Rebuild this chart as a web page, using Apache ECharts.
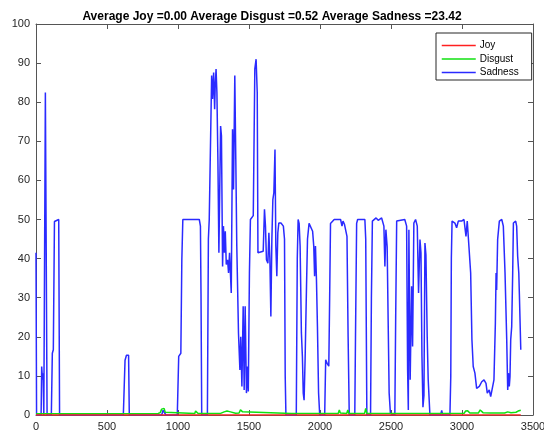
<!DOCTYPE html>
<html>
<head>
<meta charset="utf-8">
<script src="https://cdn.jsdelivr.net/npm/echarts@6/dist/echarts.min.js"></script>
<style>
  html, body { margin: 0; padding: 0; background: #fff; }
  #chart { width: 544px; height: 434px; }
</style>
</head>
<body>
<div id="chart"></div>
<script>
// Emotion scores per frame: [frame, score]
const joy = [[0, 0], [3414, 0]];

const disgust = [
  [0, 0.3], [300, 0.35], [600, 0.35], [860, 0.4], [875, 0.6], [885, 1.5], [893, 2.0], [902, 1.7], [910, 0.7], [918, 0.4],
  [1118, 0.4], [1124, 1.0], [1130, 1.4], [1136, 0.7], [1142, 0.4],
  [1300, 0.4], [1325, 0.8], [1345, 1.0], [1370, 0.8], [1405, 0.45],
  [1430, 0.5], [1440, 1.3], [1448, 1.6], [1455, 0.8], [1462, 0.4],
  [1800, 0.4], [2128, 0.4], [2136, 1.3], [2143, 0.5], [2150, 0.4],
  [2188, 0.4], [2196, 1.3], [2203, 0.4],
  [2314, 0.4], [2322, 1.7], [2330, 0.4],
  [2700, 0.4], [3015, 0.45], [3025, 1.0], [3040, 1.1], [3055, 0.5],
  [3115, 0.5], [3128, 1.3], [3138, 1.5], [3148, 0.6], [3200, 0.5],
  [3300, 0.5], [3322, 0.8], [3333, 0.9], [3345, 0.6], [3380, 0.7], [3395, 1.0], [3404, 0.9], [3414, 1.2]
];

const sadness = [
  [0, 41.5], [4, 0], [36, 0], [40, 12.4], [46, 9], [50, 10.7], [55, 0], [60, 0], [66, 82.5], [78, 0],
  [108, 0], [115, 15.8], [122, 16.7], [130, 49.5], [140, 50], [160, 50], [166, 0],
  [615, 0], [627, 14], [637, 15.3], [652, 15.3], [657, 0],
  [885, 0], [895, 1.2], [905, 0.8], [915, 0],
  [995, 0], [1005, 15], [1020, 15.8], [1027, 39.7], [1034, 50], [1150, 50], [1158, 48.3], [1162, 31], [1167, 0],
  [1207, 0], [1214, 45], [1220, 50], [1230, 50],
  [1237, 86.8], [1243, 80.8], [1251, 87.6], [1258, 78.2], [1262, 84], [1268, 88.5], [1274, 82.5], [1281, 65.4],
  [1288, 41.5], [1294, 58], [1300, 73.9], [1306, 71.4], [1314, 38], [1320, 48.3], [1327, 41.5], [1333, 47],
  [1340, 38.5], [1349, 39.7], [1356, 36.3], [1363, 41.5], [1375, 31.2], [1384, 73.1], [1391, 57.7], [1400, 86.8],
  [1407, 65.4], [1414, 43.2], [1426, 20.9], [1436, 11.5], [1442, 20], [1450, 7.3], [1459, 27.8], [1466, 6.4],
  [1473, 27.8], [1482, 5.6], [1489, 12.4], [1495, 6], [1503, 36.3], [1510, 50], [1520, 50], [1530, 51],
  [1541, 88.5], [1550, 91], [1558, 82.5], [1563, 41.5], [1575, 41.5], [1600, 41.9], [1609, 52.6], [1616, 48.3],
  [1623, 39.7], [1633, 38.8], [1640, 46.6], [1647, 40], [1654, 25.2], [1661, 44.9], [1668, 55.1], [1675, 56.8],
  [1683, 67.9], [1689, 43.2], [1696, 35.5], [1703, 46.6], [1710, 49.1], [1725, 49.1], [1742, 48.3], [1750, 45],
  [1755, 10], [1760, 0],
  [1833, 0], [1840, 40], [1846, 50], [1853, 49], [1860, 43.2], [1869, 21], [1876, 15], [1882, 5.6], [1888, 3.8],
  [1895, 14.1], [1905, 32.9], [1912, 45], [1923, 49], [1935, 48.5], [1948, 47], [1956, 43.2], [1962, 35.5],
  [1968, 43.2], [1975, 34.7], [1982, 22.6], [1990, 5.6], [1998, 0],
  [2033, 0], [2040, 14.1], [2050, 13.2], [2062, 12.5], [2068, 30], [2074, 49], [2100, 50], [2145, 50],
  [2155, 48.3], [2162, 49.6], [2172, 48.8], [2180, 49], [2190, 45.7], [2198, 20], [2206, 0],
  [2245, 0], [2250, 20], [2258, 49], [2265, 50], [2316, 50], [2322, 45], [2330, 0],
  [2356, 0], [2362, 30], [2369, 49.6], [2376, 50], [2395, 50.4], [2410, 49.8], [2434, 50.4], [2450, 48.3],
  [2457, 38], [2464, 47.4], [2473, 43], [2480, 24], [2487, 5.6], [2496, 0.4], [2500, 0],
  [2527, 0], [2533, 25], [2540, 49.6], [2548, 50], [2597, 50], [2610, 48.3], [2617, 11.5], [2622, 1.3],
  [2626, 47.4], [2635, 9], [2645, 32.9], [2652, 17.5], [2661, 49.1], [2673, 50], [2685, 48.3], [2694, 31.2],
  [2704, 44.9], [2711, 41.5], [2718, 15], [2725, 2], [2732, 5], [2739, 44], [2746, 41], [2755, 20],
  [2762, 9], [2774, 0],
  [2850, 0], [2857, 1.2], [2864, 0],
  [2915, 0], [2921, 10], [2925, 40], [2930, 49.6], [2950, 49.1], [2962, 47.9], [2974, 49.6], [2997, 49.6],
  [3014, 50], [3028, 45.7], [3037, 49.6], [3051, 49.6], [3061, 36.3], [3070, 19.2], [3079, 12.4], [3091, 10.7],
  [3103, 6.8], [3122, 7.3], [3139, 8.5], [3155, 9], [3169, 8.1], [3178, 5.6], [3192, 6.4], [3202, 4.7],
  [3216, 4.3], [3225, 9], [3235, 23.5], [3240, 36.3], [3244, 32], [3251, 44.9], [3263, 49.6], [3280, 50],
  [3291, 48.3], [3303, 36.3], [3315, 19.2], [3322, 6.4], [3327, 10.7], [3333, 7.3], [3338, 9.8], [3343, 19.2],
  [3350, 22.6], [3357, 36.3], [3362, 49.1], [3378, 49.6], [3385, 48.3], [3392, 40.6], [3400, 36.3], [3404, 31],
  [3414, 16.7]
];

const xTicks = { min: 0, max: 3500, interval: 500 };
const yTicks = { min: 0, max: 100, interval: 10 };

const colors = { Joy: '#ff2020', Disgust: '#10e010', Sadness: '#2a2aff' };
const lineWidth = 1.5;
const frameColor = '#555';
const labelColor = '#262626';
const font = 'Arial, "Liberation Sans", Helvetica, sans-serif';

function frameAxis(ticks, position, showLabels) {
  return {
    type: 'value',
    position: position,
    min: ticks.min, max: ticks.max, interval: ticks.interval,
    axisLine: { show: true, onZero: false, lineStyle: { color: frameColor, width: 1 } },
    axisTick: { show: true, inside: true, length: 5, lineStyle: { color: frameColor, width: 1 } },
    axisLabel: showLabels
      ? { show: true, color: labelColor, fontSize: 11, fontFamily: font, margin: 6,
          formatter: (v) => String(v) }
      : { show: false },
    splitLine: { show: false }
  };
}

function emotionSeries(name, data, z) {
  return {
    name: name, type: 'line', data: data, symbol: 'none', z: z,
    lineStyle: { color: colors[name], width: lineWidth },
    itemStyle: { color: colors[name] }
  };
}

const chart = echarts.init(document.getElementById('chart'), null, { renderer: 'canvas' });
chart.setOption({
  animation: false,
  backgroundColor: '#fff',
  title: {
    text: 'Average Joy =0.00 Average Disgust =0.52 Average Sadness =23.42',
    left: 'center',
    top: 6,
    textStyle: { fontSize: 12, fontWeight: 'bold', color: '#000', fontFamily: font }
  },
  grid: { left: 36, right: 11, top: 24, bottom: 19, containLabel: false, outerBoundsMode: 'none' },
  xAxis: [frameAxis(xTicks, 'bottom', true), frameAxis(xTicks, 'top', false)],
  yAxis: [frameAxis(yTicks, 'left', true), frameAxis(yTicks, 'right', false)],
  legend: {
    orient: 'vertical',
    left: 436,
    top: 33,
    padding: [7.5, 13, 2.5, 5],
    itemWidth: 34,
    itemHeight: 12,
    itemGap: 3.5,
    itemStyle: { opacity: 0 },
    backgroundColor: '#fff',
    borderColor: '#262626',
    borderWidth: 1,
    borderRadius: 0,
    textStyle: { fontSize: 10, color: '#000', fontFamily: font, padding: [0, 0, 0, -1] },
    data: ['Joy', 'Disgust', 'Sadness'].map((n) => ({
      name: n,
      itemStyle: { opacity: 0 },
      lineStyle: { color: colors[n], width: lineWidth }
    }))
  },
  series: [
    emotionSeries('Joy', joy, 5),
    emotionSeries('Disgust', disgust, 4),
    emotionSeries('Sadness', sadness, 3)
  ]
});
</script>
</body>
</html>
